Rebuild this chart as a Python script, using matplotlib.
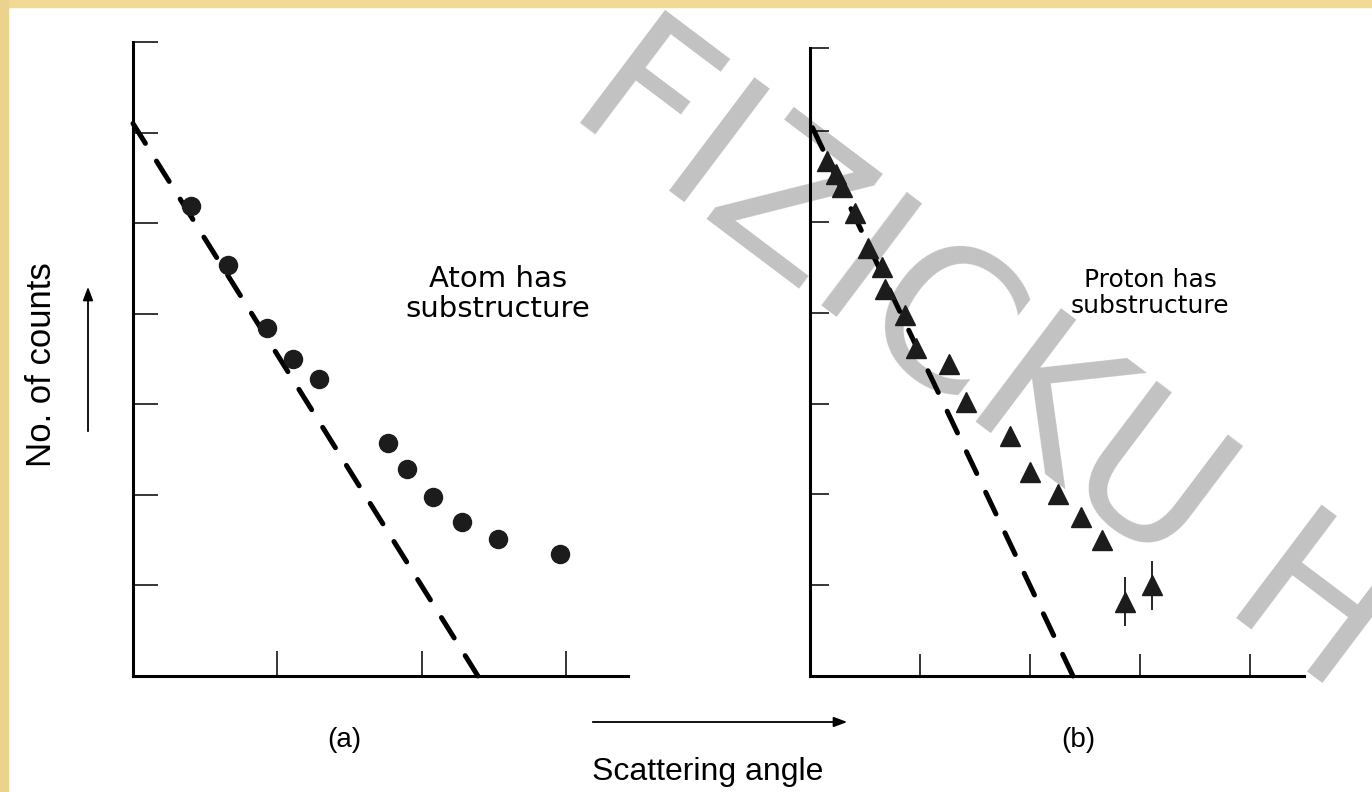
import matplotlib.pyplot as plt
from matplotlib.patches import Rectangle

# (a) atom: measured counts (round dots)
atom_x = [0.40, 0.66, 0.93, 1.11, 1.29, 1.77, 1.90, 2.08, 2.28, 2.53, 2.96]
atom_y = [5.19, 4.54, 3.84, 3.50, 3.28, 2.57, 2.28, 1.98, 1.70, 1.51, 1.35]

# (b) proton: measured counts (triangles)
proton_x = [0.15, 0.24, 0.29, 0.41, 0.53, 0.65, 0.68, 0.86, 0.96, 1.26,
            1.42, 1.82, 2.00, 2.25, 2.46, 2.65]
proton_y = [5.67, 5.53, 5.39, 5.10, 4.72, 4.51, 4.26, 3.98, 3.61, 3.44,
            3.02, 2.64, 2.25, 2.00, 1.75, 1.50]
# last two proton points carry error bars
proton_eb_x = [2.86, 3.11]
proton_eb_y = [0.82, 1.00]
proton_eb_err = [0.27, 0.27]

# point-like expectation (dashed), listed from the x axis upwards
point_x = [2.39, 0.0]
point_y = [0.0, 6.1]

W, H = 1372, 792
fig = plt.figure(figsize=(W / 100, H / 100), dpi=100)
fig.patch.set_facecolor("white")

# yellow frame of the slide
fig.patches.append(Rectangle((0, 1 - 7 / H), 1, 7 / H, transform=fig.transFigure,
                             color="#f0da96", zorder=-5))
fig.patches.append(Rectangle((0, 0), 8 / W, 1, transform=fig.transFigure,
                             color="#ecd38c", zorder=-5))

# watermark, underneath the drawing
fig.text(564 / W, 1 - 112 / H, "FIZICKU H", fontsize=140, color="#c2c2c2",
         rotation=-37, rotation_mode="anchor", ha="left", va="baseline",
         family="DejaVu Sans", zorder=-1)

bot = 1 - 676 / H
ax_a = fig.add_axes([133 / W, bot, 495 / W, (676 - 42) / H])
ax_b = fig.add_axes([810 / W, bot, 494 / W, (676 - 48) / H])

for ax in (ax_a, ax_b):
    ax.set_facecolor("none")
    for s in ("top", "right"):
        ax.spines[s].set_visible(False)
    for s in ("left", "bottom"):
        ax.spines[s].set_linewidth(2.2)
    ax.tick_params(direction="in", width=1.1, labelleft=False, labelbottom=False)
    ax.plot(point_x, point_y, color="black", lw=3.6, ls=(0, (4.8, 4.17)),
            dash_capstyle="round", clip_on=False)

ax_a.set_xlim(0, 3.43)
ax_a.set_ylim(0, 7)
ax_a.set_xticks([1, 2, 3])
ax_a.set_yticks([1, 2, 3, 4, 5, 6, 7])
ax_a.tick_params(length=18)
ax_a.plot(atom_x, atom_y, "o", ms=13, color="#1c1c1c", mec="#1c1c1c")
ax_a.text(2.53, 4.22, "Atom has\nsubstructure", ha="center", va="center",
          fontsize=21, linespacing=1.1)

ax_b.set_xlim(0, 4.49)
ax_b.set_ylim(0, 6.92)
ax_b.set_xticks([1, 2, 3, 4])
ax_b.set_yticks([1, 2, 3, 4, 5, 6, 6.92])
ax_b.tick_params(axis="x", length=16)
ax_b.tick_params(axis="y", length=14)
ax_b.plot(proton_x, proton_y, "^", ms=15, color="#1c1c1c", mec="#1c1c1c")
ax_b.errorbar(proton_eb_x, proton_eb_y, yerr=proton_eb_err, fmt="^", ms=15,
              color="#1c1c1c", ecolor="black", elinewidth=1.2, capsize=0)
ax_b.text(3.09, 4.22, "Proton has\nsubstructure", ha="center", va="center",
          fontsize=18, linespacing=1.1)

lab = dict(family="Liberation Sans", color="black")
fig.text(42 / W, 1 - 365 / H, "No. of counts", rotation=90, ha="center",
         va="center", fontsize=25, **lab)
fig.text(344 / W, 1 - 740 / H, "(a)", ha="center", va="center", fontsize=20, **lab)
fig.text(1078 / W, 1 - 740 / H, "(b)", ha="center", va="center", fontsize=20, **lab)
fig.text(708 / W, 1 - 772 / H, "Scattering angle", ha="center", va="center",
         fontsize=23, **lab)

# direction arrows
fig.add_artist(plt.Annotation("", xy=(850 / W, 1 - 722 / H), xytext=(590 / W, 1 - 722 / H),
                              xycoords="figure fraction",
                              arrowprops=dict(arrowstyle="-|>,head_length=0.8,head_width=0.3",
                                              lw=1.3, color="black")))
fig.add_artist(plt.Annotation("", xy=(88 / W, 1 - 284 / H), xytext=(88 / W, 1 - 434 / H),
                              xycoords="figure fraction",
                              arrowprops=dict(arrowstyle="-|>,head_length=0.8,head_width=0.3",
                                              lw=1.3, color="black")))

fig.savefig("out.png", dpi=100)
